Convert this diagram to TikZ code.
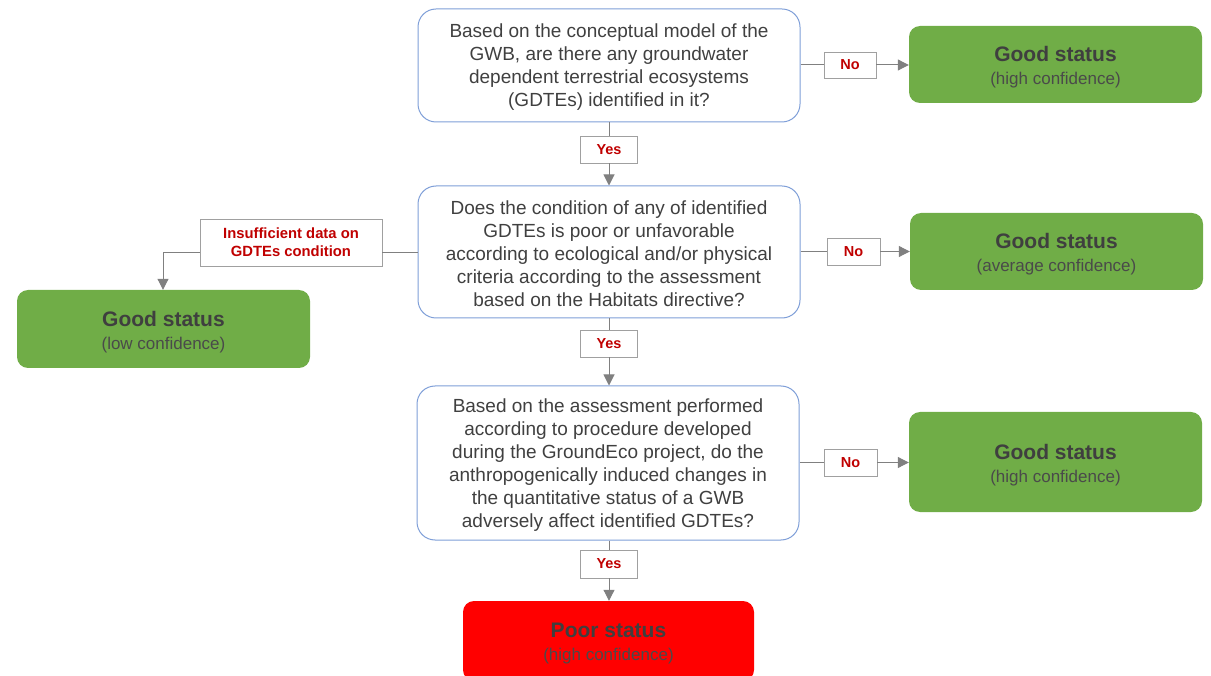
\documentclass[tikz,border=0pt]{standalone}
\usepackage{fontspec}
\setmainfont{Liberation Sans}
\usetikzlibrary{arrows.meta}
\definecolor{qblue}{HTML}{7F9FD8}
\definecolor{qtext}{HTML}{404040}
\definecolor{ggreen}{HTML}{70AD47}
\definecolor{gtitle}{HTML}{3F3F3F}
\definecolor{gsub}{HTML}{4A4A4A}
\definecolor{lred}{HTML}{C00000}
\definecolor{lgray}{HTML}{A0A0A0}
\definecolor{agray}{HTML}{808080}
\tikzset{
  qbox/.style={draw=qblue, line width=1pt, rounded corners=18pt, fill=white, inner sep=0pt},
  qtxt/.style={align=center, text=qtext, font=\fontsize{19}{23}\selectfont, inner sep=0pt},
  gbox/.style={fill=ggreen, rounded corners=11pt, inner sep=0pt},
  rbox/.style={gbox, fill=red},
  gtxt/.style={align=center, inner sep=0pt, font=\fontsize{17}{23}\selectfont},
  lbl/.style={draw=lgray, line width=0.8pt, fill=white, text=lred, align=center,
    font=\bfseries\fontsize{14.5}{18}\selectfont, inner sep=0pt},
  conn/.style={draw=agray, line width=1pt},
  arr/.style={conn, -{Triangle[length=11pt,width=11pt]}},
}
\newcommand{\gtext}[2]{{\color{gtitle}\bfseries\fontsize{21}{23}\selectfont #1}\\{\color{gsub}#2}}
\begin{document}
\begin{tikzpicture}[x=1pt,y=-1pt]
\useasboundingbox (0,0) rectangle (1211,676);
% questions
\node[qbox, minimum width=382pt, minimum height=113pt] (q1) at (609,65.5) {};
\node[qtxt] (q1t) at ([yshift=-2pt]q1.center)
  {Based on the conceptual model of the\\GWB, are there any groundwater\\dependent terrestrial ecosystems\\(GDTEs) identified in it?};
\node[qbox, minimum width=382pt, minimum height=132pt] (q2) at (609,252) {};
\node[qtxt] (q2t) at ([yshift=-2pt]q2.center)
  {Does the condition of any of identified\\GDTEs is poor or unfavorable\\according to ecological and/or physical\\criteria according to the assessment\\based on the Habitats directive?};
\node[qbox, minimum width=382pt, minimum height=154pt] (q3) at (608,463) {};
\node[qtxt] (q3t) at ([yshift=-2pt]q3.center)
  {Based on the assessment performed\\according to procedure developed\\during the GroundEco project, do the\\anthropogenically induced changes in\\the quantitative status of a GWB\\adversely affect identified GDTEs?};
% outcomes
\node[gbox, minimum width=293pt, minimum height=77pt] (g1) at (1055.5,64.5) {};
\node[gtxt] (g1t) at ([yshift=-3pt]g1.center) {\gtext{Good status}{(high confidence)}};
\node[gbox, minimum width=293pt, minimum height=77pt] (g2) at (1056.5,251.5) {};
\node[gtxt] (g2t) at ([yshift=-3pt]g2.center) {\gtext{Good status}{(average confidence)}};
\node[gbox, minimum width=293pt, minimum height=78pt] (g3) at (163.5,329) {};
\node[gtxt] (g3t) at ([yshift=-3pt]g3.center) {\gtext{Good status}{(low confidence)}};
\node[gbox, minimum width=293pt, minimum height=100pt] (g4) at (1055.5,462) {};
\node[gtxt] (g4t) at ([yshift=-3pt]g4.center) {\gtext{Good status}{(high confidence)}};
\node[rbox, minimum width=291pt, minimum height=80pt] (p) at (608.5,641) {};
\node[gtxt] (pt) at ([yshift=-3pt]p.center) {\gtext{Poor status}{(high confidence)}};
% labels
\node[lbl, minimum width=57pt, minimum height=27pt] (y1) at (609,149.5) {Yes};
\node[lbl, minimum width=57pt, minimum height=27pt] (y2) at (609,343.5) {Yes};
\node[lbl, minimum width=57pt, minimum height=28pt] (y3) at (609,564) {Yes};
\node[lbl, minimum width=52pt, minimum height=26pt] (n1) at (850,65) {No};
\node[lbl, minimum width=53pt, minimum height=27pt] (n2) at (853.5,251.5) {No};
\node[lbl, minimum width=53pt, minimum height=27pt] (n3) at (850.5,462.5) {No};
\node[lbl, minimum width=182pt, minimum height=47pt, font=\bfseries\fontsize{14.8}{18}\selectfont] (ins) at (291,242.5) {Insufficient data on\\GDTEs condition};
\coordinate (c1) at (163,252.5);
% connectors
\draw[conn] (q1.south -| y1) -- (y1.north);
\draw[arr] (y1.south) -- (q2.north -| y1);
\draw[conn] (q2.south -| y2) -- (y2.north);
\draw[arr] (y2.south) -- (q3.north -| y2);
\draw[conn] (q3.south -| y3) -- (y3.north);
\draw[arr] (y3.south) -- (p.north -| y3);
\draw[conn] (q1.east |- n1) -- (n1.west);
\draw[arr] (n1.east) -- (g1.west |- n1);
\draw[conn] (q2.east |- n2) -- (n2.west);
\draw[arr] (n2.east) -- (g2.west |- n2);
\draw[conn] (q3.east |- n3) -- (n3.west);
\draw[arr] (n3.east) -- (g4.west |- n3);
\draw[conn] (q2.west |- c1) -- (ins.east |- c1);
\draw[arr] (ins.west |- c1) -- (c1) -- (g3.north -| c1);
\end{tikzpicture}
\end{document}
